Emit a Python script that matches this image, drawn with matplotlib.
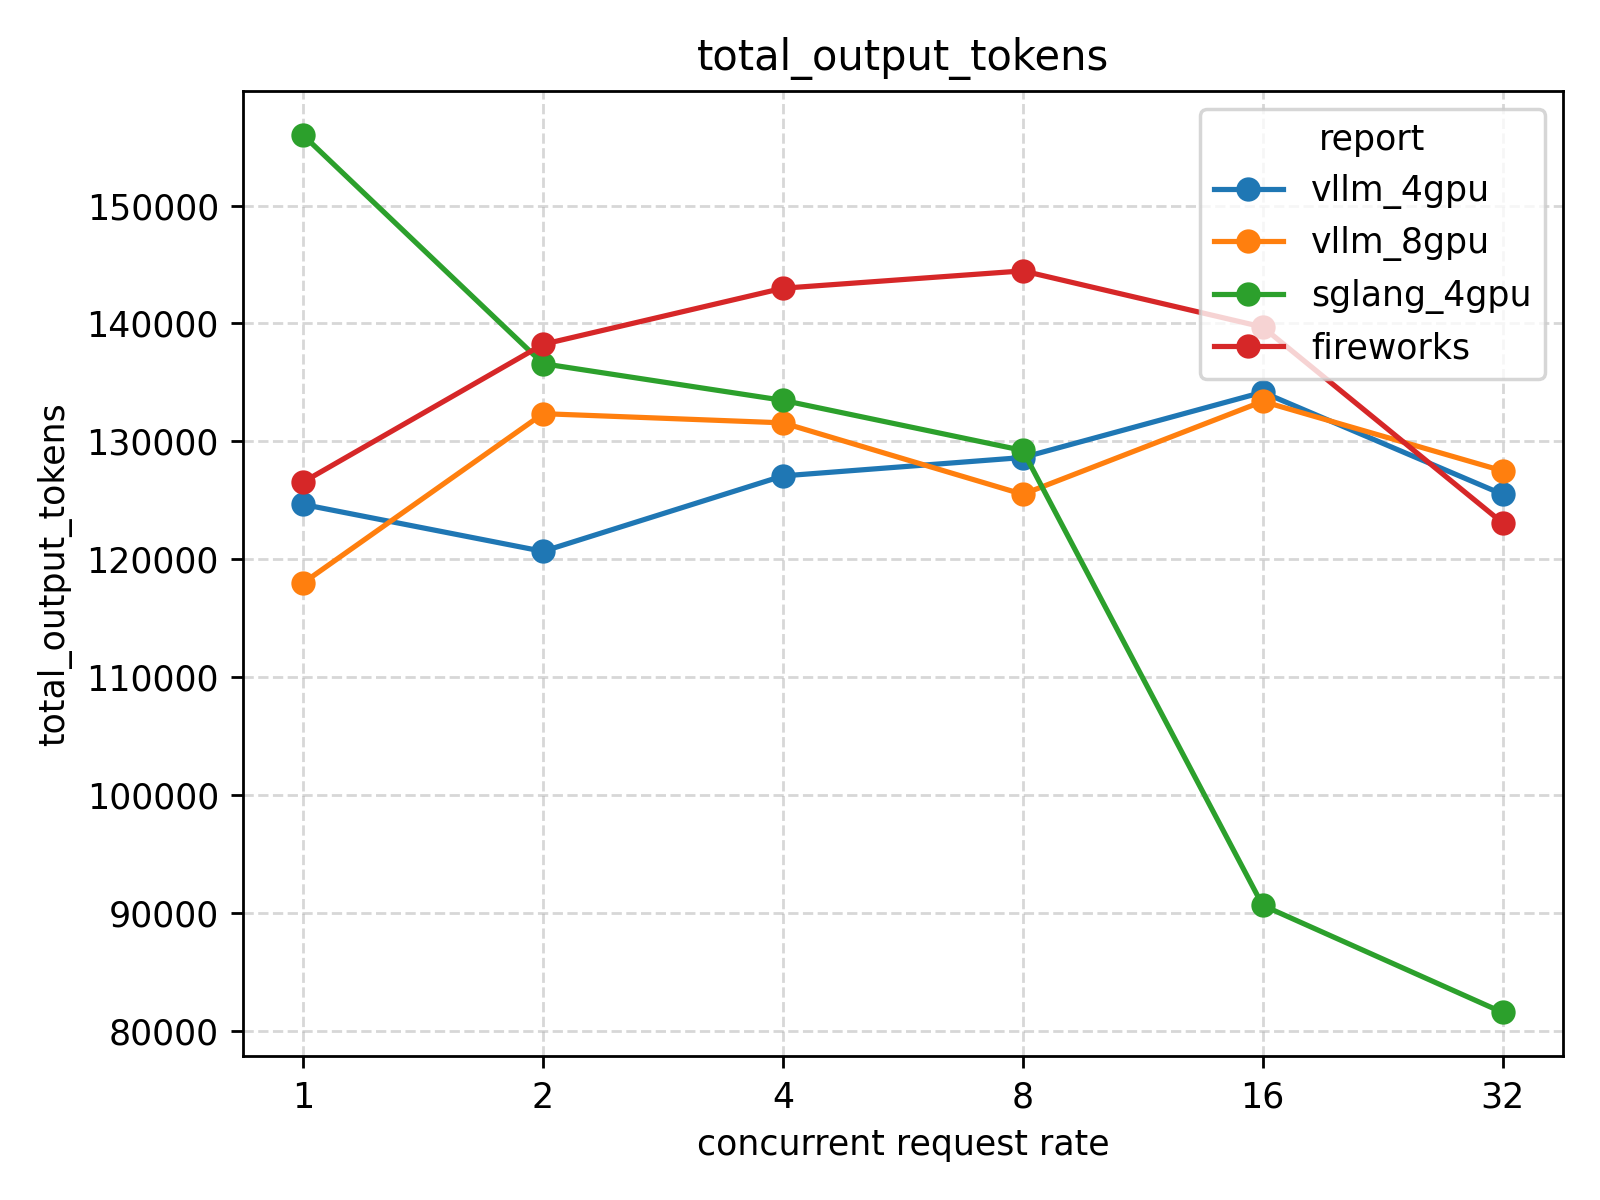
import matplotlib
matplotlib.use("Agg")
import matplotlib.pyplot as plt

rates = ["1", "2", "4", "8", "16", "32"]
vllm_4gpu = [124650, 120670, 127070, 128630, 134170, 125510]
vllm_8gpu = [117990, 132350, 131570, 125510, 133390, 127500]
sglang_4gpu = [155970, 136590, 133480, 129230, 90640, 81560]
fireworks = [126550, 138230, 142990, 144460, 139700, 123090]

series = {
    "vllm_4gpu": vllm_4gpu,
    "vllm_8gpu": vllm_8gpu,
    "sglang_4gpu": sglang_4gpu,
    "fireworks": fireworks,
}

fig, ax = plt.subplots(figsize=(6.4, 4.8), dpi=250)
x = list(range(len(rates)))
for name, vals in series.items():
    ax.plot(x, vals, marker="o", label=name)

ax.set_xticks(x)
ax.set_xticklabels(rates)
ax.set_title("total_output_tokens")
ax.set_xlabel("concurrent request rate")
ax.set_ylabel("total_output_tokens")
ax.grid(True, linestyle="--", alpha=0.5)
ax.legend(title="report", loc="upper right")
fig.tight_layout()
fig.savefig("out.png")
